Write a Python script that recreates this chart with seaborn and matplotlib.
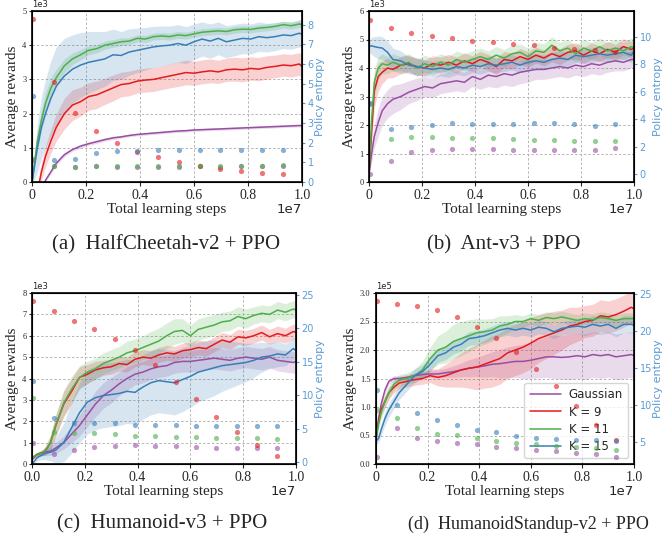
import matplotlib
matplotlib.use("Agg")
import matplotlib.pyplot as plt
import numpy as np
import seaborn as sns

# training progress (in units of 1e7 steps)
STEPS = [0, 0.01, 0.02, 0.035, 0.05, 0.07, 0.09, 0.12, 0.15, 0.18, 0.21, 0.24, 0.27,
         0.30, 0.33, 0.36, 0.39, 0.42, 0.45, 0.48, 0.51, 0.54, 0.57, 0.60, 0.63, 0.66,
         0.69, 0.72, 0.75, 0.78, 0.81, 0.84, 0.87, 0.90, 0.93, 0.96, 0.99, 1.0]
DOT_STEPS = [0.005, 0.082, 0.159, 0.236, 0.313, 0.39, 0.467, 0.544, 0.621, 0.698,
             0.775, 0.852, 0.929]
X_TICKS = [0, 0.2, 0.4, 0.6, 0.8, 1.0]

METHODS = ["Gaussian", "K = 9", "K = 11", "K = 15"]
COLORS = {"Gaussian": "#984ea3", "K = 9": "#e41a1c", "K = 11": "#4daf4a", "K = 15": "#377eb8"}
ENT_COLOR = "#5b9bd5"

# (a) HalfCheetah-v2, rewards in 1e3
cheetah_reward = {
    "Gaussian": [-1.2, -0.9, -0.6, -0.2, 0.05, 0.3, 0.55, 0.8, 0.95, 1.05, 1.12, 1.18, 1.24, 1.29, 1.32, 1.36, 1.39, 1.41, 1.43, 1.45, 1.47, 1.49, 1.5, 1.52, 1.53, 1.54, 1.55, 1.56, 1.57, 1.58, 1.59, 1.6, 1.61, 1.62, 1.63, 1.64, 1.65, 1.65],
    "K = 9": [-1.2, -0.8, -0.3, 0.3, 0.75, 1.2, 1.6, 2.0, 2.25, 2.35, 2.5, 2.55, 2.65, 2.75, 2.85, 2.88, 2.95, 2.98, 3.0, 3.05, 3.1, 3.15, 3.2, 3.18, 3.22, 3.25, 3.22, 3.28, 3.3, 3.28, 3.32, 3.3, 3.35, 3.38, 3.42, 3.4, 3.45, 3.38],
    "K = 11": [0.0, 0.6, 1.2, 1.8, 2.3, 2.75, 3.05, 3.4, 3.6, 3.72, 3.85, 3.9, 4.0, 4.05, 4.1, 4.12, 4.2, 4.18, 4.25, 4.27, 4.25, 4.3, 4.28, 4.33, 4.38, 4.4, 4.42, 4.4, 4.45, 4.47, 4.46, 4.5, 4.52, 4.55, 4.6, 4.57, 4.62, 4.6],
    "K = 15": [0.0, 0.5, 1.0, 1.6, 2.0, 2.45, 2.8, 3.1, 3.3, 3.42, 3.5, 3.55, 3.6, 3.72, 3.7, 3.8, 3.85, 3.9, 3.95, 3.98, 4.0, 4.05, 4.0, 4.1, 4.18, 4.12, 4.2, 4.1, 4.15, 4.2, 4.18, 4.25, 4.22, 4.25, 4.3, 4.28, 4.35, 4.32],
}
cheetah_band = {
    "Gaussian": [0.02, 0.02, 0.03, 0.04, 0.05, 0.06, 0.06, 0.06, 0.05, 0.05, 0.05, 0.05, 0.05, 0.05, 0.04, 0.04, 0.04, 0.04, 0.04, 0.04, 0.04, 0.04, 0.04, 0.04, 0.04, 0.04, 0.04, 0.04, 0.04, 0.04, 0.04, 0.04, 0.04, 0.04, 0.04, 0.04, 0.04, 0.04],
    "K = 9": [0.1, 0.15, 0.2, 0.25, 0.3, 0.35, 0.4, 0.45, 0.45, 0.42, 0.4, 0.4, 0.38, 0.38, 0.36, 0.36, 0.35, 0.35, 0.35, 0.35, 0.35, 0.36, 0.36, 0.35, 0.35, 0.35, 0.34, 0.34, 0.35, 0.35, 0.34, 0.34, 0.34, 0.33, 0.33, 0.33, 0.33, 0.33],
    "K = 11": [0.05, 0.15, 0.25, 0.3, 0.32, 0.3, 0.25, 0.2, 0.17, 0.15, 0.13, 0.12, 0.12, 0.11, 0.11, 0.1, 0.1, 0.1, 0.1, 0.1, 0.1, 0.1, 0.1, 0.1, 0.1, 0.1, 0.1, 0.1, 0.1, 0.1, 0.1, 0.1, 0.1, 0.1, 0.1, 0.1, 0.1, 0.1],
    "K = 15": [0.1, 0.4, 0.7, 0.9, 1.0, 1.1, 1.15, 1.1, 1.0, 0.95, 0.9, 0.85, 0.8, 0.75, 0.7, 0.68, 0.65, 0.62, 0.6, 0.58, 0.56, 0.55, 0.54, 0.52, 0.5, 0.5, 0.48, 0.47, 0.46, 0.45, 0.44, 0.43, 0.42, 0.41, 0.4, 0.4, 0.4, 0.4],
}
cheetah_entropy = {
    "Gaussian": [1.1, 0.8, 0.78, 0.79, 0.78, 0.78, 0.78, 0.78, 0.79, 0.78, 0.79, 0.8, 0.8],
    "K = 9": [8.29, 5.1, 3.49, 2.59, 1.99, 1.55, 1.29, 1.02, 0.83, 0.66, 0.56, 0.48, 0.39],
    "K = 11": [1.17, 0.8, 0.78, 0.79, 0.79, 0.79, 0.8, 0.8, 0.8, 0.8, 0.82, 0.83, 0.84],
    "K = 15": [4.39, 1.11, 1.19, 1.48, 1.57, 1.57, 1.62, 1.63, 1.63, 1.65, 1.65, 1.65, 1.65],
}

# (b) Ant-v3, rewards in 1e3
ant_reward = {
    "Gaussian": [0.3, 1.0, 1.6, 2.1, 2.5, 2.75, 2.9, 3.0, 3.15, 3.25, 3.35, 3.3, 3.45, 3.5, 3.55, 3.5, 3.7, 3.6, 3.75, 3.7, 3.8, 3.75, 3.85, 3.9, 3.95, 3.95, 4.0, 4.05, 4.0, 4.1, 4.05, 4.15, 4.1, 4.2, 4.25, 4.2, 4.3, 4.3],
    "K = 9": [0.3, 1.8, 3.2, 3.7, 3.85, 4.0, 3.95, 4.1, 4.15, 4.05, 4.0, 4.15, 4.1, 4.2, 4.1, 4.25, 4.15, 4.3, 4.2, 4.05, 4.3, 4.25, 4.4, 4.3, 4.45, 4.35, 4.5, 4.4, 4.55, 4.6, 4.45, 4.6, 4.5, 4.65, 4.55, 4.75, 4.65, 4.7],
    "K = 11": [0.3, 2.2, 3.5, 4.0, 4.15, 4.1, 4.2, 4.1, 4.2, 4.0, 4.15, 4.05, 4.2, 4.1, 4.3, 4.2, 4.3, 4.4, 4.3, 4.45, 4.35, 4.5, 4.55, 4.4, 4.6, 4.55, 4.8, 4.6, 4.7, 4.5, 4.7, 4.6, 4.75, 4.6, 4.7, 4.6, 4.75, 4.7],
    "K = 15": [4.75, 4.78, 4.75, 4.72, 4.7, 4.55, 4.3, 4.25, 4.1, 4.05, 4.0, 3.95, 4.0, 3.95, 4.05, 4.0, 4.1, 4.05, 4.15, 4.1, 4.15, 4.2, 4.1, 4.2, 4.25, 4.2, 4.3, 4.35, 4.3, 4.45, 4.4, 4.45, 4.5, 4.45, 4.5, 4.55, 4.45, 4.6],
}
ant_band = {
    "Gaussian": [0.1, 0.3, 0.4, 0.5, 0.5, 0.5, 0.5, 0.45, 0.4, 0.4, 0.35, 0.35, 0.35, 0.35, 0.35, 0.35, 0.35, 0.35, 0.4, 0.4, 0.4, 0.4, 0.4, 0.4, 0.35, 0.35, 0.35, 0.35, 0.35, 0.35, 0.35, 0.35, 0.35, 0.35, 0.35, 0.3, 0.3, 0.3],
    "K = 9": [0.1, 0.5, 0.6, 0.5, 0.4, 0.35, 0.3, 0.3, 0.3, 0.3, 0.28, 0.28, 0.28, 0.28, 0.28, 0.28, 0.28, 0.28, 0.28, 0.28, 0.28, 0.28, 0.28, 0.28, 0.28, 0.28, 0.28, 0.28, 0.28, 0.28, 0.28, 0.28, 0.28, 0.28, 0.28, 0.28, 0.28, 0.28],
    "K = 11": [0.1, 0.5, 0.5, 0.4, 0.35, 0.3, 0.3, 0.3, 0.3, 0.3, 0.3, 0.3, 0.3, 0.3, 0.3, 0.3, 0.3, 0.3, 0.3, 0.3, 0.3, 0.3, 0.3, 0.3, 0.3, 0.3, 0.3, 0.3, 0.3, 0.3, 0.3, 0.3, 0.3, 0.3, 0.3, 0.3, 0.3, 0.3],
    "K = 15": [0.2, 0.3, 0.35, 0.4, 0.4, 0.4, 0.4, 0.35, 0.3, 0.3, 0.28, 0.28, 0.28, 0.28, 0.28, 0.28, 0.27, 0.27, 0.27, 0.27, 0.27, 0.27, 0.26, 0.26, 0.26, 0.26, 0.26, 0.26, 0.25, 0.25, 0.25, 0.25, 0.25, 0.25, 0.25, 0.25, 0.25, 0.25],
}
ant_entropy = {
    "Gaussian": [0.05, 0.95, 1.63, 1.77, 1.84, 1.87, 1.82, 1.77, 1.77, 1.77, 1.77, 1.8, 1.92],
    "K = 9": [11.21, 10.6, 10.24, 10.05, 9.88, 9.71, 9.59, 9.49, 9.37, 9.2, 9.08, 9.0, 8.9],
    "K = 11": [5.1, 2.6, 2.69, 2.69, 2.62, 2.62, 2.67, 2.57, 2.48, 2.48, 2.45, 2.43, 2.43],
    "K = 15": [5.15, 3.28, 3.47, 3.57, 3.71, 3.69, 3.67, 3.62, 3.71, 3.71, 3.62, 3.52, 3.67],
}

# (c) Humanoid-v3, rewards in 1e3
humanoid_reward = {
    "Gaussian": [0.2, 0.35, 0.45, 0.52, 0.56, 0.6, 0.75, 1.0, 1.4, 1.8, 2.3, 2.8, 3.2, 3.45, 3.75, 4.0, 4.2, 4.3, 4.45, 4.55, 4.6, 4.75, 4.8, 4.8, 4.85, 4.9, 4.95, 4.9, 4.85, 4.95, 5.0, 4.95, 4.9, 5.0, 4.85, 4.8, 4.75, 4.8],
    "K = 9": [0.25, 0.38, 0.45, 0.5, 0.6, 1.0, 1.8, 2.8, 3.4, 4.05, 4.2, 4.4, 4.5, 4.55, 4.7, 4.65, 4.9, 5.0, 4.95, 5.1, 5.2, 5.15, 5.3, 5.35, 5.45, 5.4, 5.6, 5.8, 5.7, 5.95, 5.9, 6.0, 6.15, 5.95, 6.1, 6.0, 6.2, 6.15],
    "K = 11": [0.25, 0.38, 0.45, 0.5, 0.6, 1.0, 1.8, 2.85, 3.5, 4.05, 4.3, 4.45, 4.7, 4.85, 5.0, 5.2, 5.3, 5.45, 5.6, 5.75, 6.0, 6.2, 6.25, 6.0, 6.3, 6.4, 6.5, 6.65, 6.7, 6.9, 6.8, 6.95, 7.05, 7.0, 7.2, 7.1, 7.25, 7.2],
    "K = 15": [0.0, 0.15, 0.3, 0.4, 0.5, 0.55, 0.65, 1.0, 1.7, 2.4, 2.9, 3.1, 3.2, 3.25, 3.3, 3.4, 3.35, 3.6, 3.8, 3.9, 3.85, 3.8, 3.95, 4.1, 4.3, 4.4, 4.5, 4.6, 4.65, 4.7, 4.75, 4.85, 5.0, 5.05, 5.15, 5.1, 5.4, 5.3],
}
humanoid_band = {
    "Gaussian": [0.05, 0.08, 0.1, 0.12, 0.15, 0.2, 0.25, 0.3, 0.4, 0.5, 0.55, 0.6, 0.6, 0.6, 0.55, 0.55, 0.5, 0.5, 0.5, 0.5, 0.5, 0.5, 0.5, 0.5, 0.5, 0.5, 0.5, 0.5, 0.5, 0.5, 0.5, 0.5, 0.5, 0.5, 0.5, 0.5, 0.5, 0.5],
    "K = 9": [0.05, 0.08, 0.1, 0.12, 0.2, 0.35, 0.5, 0.6, 0.6, 0.5, 0.45, 0.4, 0.35, 0.35, 0.35, 0.35, 0.35, 0.35, 0.35, 0.35, 0.35, 0.35, 0.35, 0.35, 0.35, 0.35, 0.35, 0.35, 0.35, 0.35, 0.35, 0.35, 0.35, 0.35, 0.35, 0.35, 0.35, 0.35],
    "K = 11": [0.05, 0.08, 0.1, 0.12, 0.2, 0.35, 0.5, 0.6, 0.6, 0.55, 0.5, 0.5, 0.5, 0.5, 0.5, 0.55, 0.55, 0.55, 0.6, 0.6, 0.6, 0.6, 0.55, 0.5, 0.5, 0.5, 0.5, 0.45, 0.45, 0.45, 0.45, 0.4, 0.4, 0.4, 0.4, 0.4, 0.4, 0.4],
    "K = 15": [0.05, 0.1, 0.15, 0.2, 0.3, 0.4, 0.6, 0.9, 1.2, 1.4, 1.5, 1.5, 1.5, 1.5, 1.5, 1.5, 1.5, 1.5, 1.5, 1.5, 1.5, 1.5, 1.5, 1.45, 1.4, 1.35, 1.3, 1.2, 1.1, 1.0, 0.9, 0.8, 0.7, 0.6, 0.6, 0.5, 0.5, 0.5],
}
humanoid_entropy = {
    "Gaussian": [2.89, 1.24, 1.84, 2.29, 2.44, 2.54, 2.44, 2.49, 2.29, 2.14, 2.14, 2.14, 2.14],
    "K = 9": [24.05, 22.5, 21.07, 19.87, 18.43, 16.68, 14.44, 12.05, 9.46, 6.82, 4.48, 2.54, 0.95],
    "K = 11": [9.56, 4.48, 4.33, 4.33, 4.18, 3.93, 3.93, 3.83, 3.73, 3.68, 3.68, 3.63, 3.54],
    "K = 15": [12.15, 6.57, 5.9, 5.83, 5.83, 5.63, 5.63, 5.58, 5.48, 5.48, 5.48, 5.48, 5.48],
}

# (d) HumanoidStandup-v2, rewards in 1e5
standup_reward = {
    "Gaussian": [0.45, 0.8, 1.05, 1.3, 1.45, 1.5, 1.5, 1.52, 1.55, 1.57, 1.58, 1.58, 1.6, 1.62, 1.65, 1.68, 1.7, 1.72, 1.75, 1.76, 1.78, 1.8, 1.8, 1.82, 1.85, 1.88, 1.88, 1.87, 1.88, 1.9, 1.88, 1.92, 1.9, 1.92, 1.88, 1.9, 1.92, 1.9],
    "K = 9": [0.45, 0.75, 0.95, 1.1, 1.25, 1.35, 1.42, 1.45, 1.48, 1.5, 1.55, 1.52, 1.55, 1.6, 1.65, 1.68, 1.7, 1.75, 1.8, 1.85, 1.95, 2.0, 2.05, 2.12, 2.2, 2.25, 2.3, 2.35, 2.42, 2.45, 2.5, 2.52, 2.6, 2.58, 2.62, 2.68, 2.75, 2.72],
    "K = 11": [0.45, 0.7, 0.9, 1.1, 1.25, 1.4, 1.47, 1.5, 1.55, 1.65, 1.85, 2.0, 2.05, 2.15, 2.2, 2.25, 2.3, 2.32, 2.35, 2.42, 2.45, 2.5, 2.5, 2.55, 2.52, 2.57, 2.55, 2.58, 2.55, 2.52, 2.55, 2.53, 2.57, 2.55, 2.52, 2.55, 2.55, 2.55],
    "K = 15": [0.4, 0.45, 0.6, 0.8, 0.95, 1.1, 1.25, 1.4, 1.55, 1.62, 1.75, 1.9, 1.95, 2.05, 2.1, 2.2, 2.22, 2.25, 2.3, 2.35, 2.38, 2.35, 2.38, 2.35, 2.4, 2.38, 2.32, 2.38, 2.4, 2.42, 2.4, 2.45, 2.42, 2.45, 2.38, 2.45, 2.45, 2.43],
}
standup_band = {
    "Gaussian": [0.03, 0.05, 0.06, 0.06, 0.05, 0.05, 0.05, 0.05, 0.05, 0.05, 0.06, 0.07, 0.08, 0.1, 0.12, 0.15, 0.17, 0.2, 0.22, 0.25, 0.27, 0.28, 0.3, 0.32, 0.34, 0.36, 0.38, 0.38, 0.4, 0.4, 0.4, 0.4, 0.4, 0.4, 0.4, 0.4, 0.4, 0.4],
    "K = 9": [0.03, 0.08, 0.1, 0.1, 0.1, 0.1, 0.1, 0.1, 0.1, 0.1, 0.12, 0.15, 0.2, 0.25, 0.3, 0.35, 0.4, 0.42, 0.45, 0.45, 0.45, 0.45, 0.45, 0.45, 0.42, 0.4, 0.38, 0.35, 0.33, 0.3, 0.28, 0.28, 0.28, 0.28, 0.28, 0.28, 0.28, 0.28],
    "K = 11": [0.05, 0.1, 0.12, 0.12, 0.12, 0.1, 0.1, 0.1, 0.12, 0.15, 0.2, 0.25, 0.28, 0.3, 0.3, 0.28, 0.25, 0.22, 0.2, 0.18, 0.15, 0.12, 0.1, 0.1, 0.1, 0.1, 0.1, 0.1, 0.1, 0.1, 0.1, 0.1, 0.1, 0.1, 0.1, 0.1, 0.1, 0.1],
    "K = 15": [0.05, 0.08, 0.1, 0.12, 0.12, 0.12, 0.12, 0.12, 0.12, 0.12, 0.12, 0.12, 0.12, 0.12, 0.12, 0.12, 0.12, 0.12, 0.12, 0.12, 0.12, 0.12, 0.12, 0.12, 0.12, 0.12, 0.12, 0.12, 0.12, 0.12, 0.15, 0.15, 0.15, 0.15, 0.15, 0.15, 0.15, 0.15],
}
standup_entropy = {
    "Gaussian": [2.95, 6.91, 5.55, 5.05, 4.86, 4.64, 4.23, 4.18, 3.91, 3.73, 3.41, 3.27, 2.95],
    "K = 9": [24.09, 23.73, 23.45, 22.86, 21.91, 20.55, 19.05, 17.14, 14.91, 12.5, 9.77, 7.27, 5.23],
    "K = 11": [9.23, 8.18, 6.82, 6.09, 5.95, 5.55, 5.09, 4.77, 4.64, 4.41, 4.32, 4.09, 3.86],
    "K = 15": [12.05, 9.91, 8.95, 7.91, 7.23, 6.59, 6.36, 5.82, 5.55, 5.36, 5.23, 5.2, 5.09],
}

sns.set_style("ticks", {"axes.grid": True, "grid.color": "#b5b5b5", "axes.edgecolor": "black"})
plt.rcParams["grid.linewidth"] = 0.7
plt.rcParams["grid.linestyle"] = (0, (2.5, 2))
SERIF = ["Liberation Serif", "DejaVu Serif"]

fig = plt.figure(figsize=(6.64, 5.35), dpi=100)


def panel(box, reward, band, entropy, scale, ylim, yticks, elim, eticks, caption, cap_xy,
          cap_size=15, zero_label="0", legend=False):
    left, top, right, bottom = box
    ax = fig.add_axes([left / 664, 1 - bottom / 535, (right - left) / 664, (bottom - top) / 535])
    x = np.array(STEPS) * 1e7
    for m in METHODS:
        mean = np.array(reward[m]) * scale
        half = np.array(band[m]) * scale
        ax.fill_between(x, mean - half, mean + half, color=COLORS[m], alpha=0.2, lw=0)
        sns.lineplot(x=x, y=mean, color=COLORS[m], lw=1.1, label=m, ax=ax, legend=False)
    ax.set_xlim(0, 1e7)
    ax.set_xticks(np.array(X_TICKS) * 1e7, [zero_label] + [f"{t:.1f}" for t in X_TICKS[1:]])
    ax.text(1.0, -0.12, "1e7", transform=ax.transAxes, ha="right", va="top", fontsize=9.5)
    ax.set_ylim(*ylim)
    ax.set_yticks(yticks)
    ax.ticklabel_format(axis="y", style="sci", scilimits=(0, 0))
    ax.tick_params(axis="y", labelsize=6, length=2.5, pad=1.5)
    ax.tick_params(axis="x", labelsize=10, length=3, pad=2)
    for lab in ax.get_xticklabels() + ax.get_yticklabels():
        lab.set_fontfamily(SERIF)
    ax.yaxis.get_offset_text().set_fontsize(6)
    ax.set_xlabel("Total learning steps", fontsize=11, family=SERIF, labelpad=1)
    ax.set_ylabel("Average rewards", fontsize=11, family=SERIF, labelpad=2)
    for sp in ax.spines.values():
        sp.set_linewidth(1.2)
    if legend:
        ax.legend(loc="lower right", fontsize=8.5, handlelength=2.7, labelspacing=0.35,
                  borderpad=0.45, handletextpad=0.6, framealpha=0.8)

    ax2 = ax.twinx()
    for m in METHODS:
        sns.scatterplot(x=np.array(DOT_STEPS) * 1e7, y=entropy[m], color=COLORS[m], s=14,
                        alpha=0.6, linewidth=0, ax=ax2, legend=False)
    ax2.grid(False)
    ax2.set_xlim(0, 1e7)
    ax2.set_ylim(*elim)
    ax2.set_yticks(eticks)
    ax2.tick_params(axis="y", colors=ENT_COLOR, labelsize=7, length=2.5, pad=1.5)
    ax2.set_ylabel("Policy entropy", color=ENT_COLOR, fontsize=8, labelpad=1)
    fig.text(cap_xy[0] / 664, 1 - cap_xy[1] / 535, caption, ha="center", va="center",
             fontsize=cap_size, family=SERIF)


panel((32, 11, 302, 182), cheetah_reward, cheetah_band, cheetah_entropy, 1e3,
      (0, 5000), [0, 1000, 2000, 3000, 4000, 5000], (0, 8.7), [0, 1, 2, 3, 4, 5, 6, 7, 8],
      "(a)  HalfCheetah-v2 + PPO", (166, 245))
panel((369, 11, 634, 182), ant_reward, ant_band, ant_entropy, 1e3,
      (0, 6000), [0, 1000, 2000, 3000, 4000, 5000, 6000], (-0.56, 11.87), [0, 2, 4, 6, 8, 10],
      "(b)  Ant-v3 + PPO", (504, 245))
panel((32, 293, 296, 464), humanoid_reward, humanoid_band, humanoid_entropy, 1e3,
      (0, 8000), [0, 1000, 2000, 3000, 4000, 5000, 6000, 7000, 8000], (-0.25, 25.25),
      [0, 5, 10, 15, 20, 25], "(c)  Humanoid-v3 + PPO", (162, 524), zero_label="0.0")
panel((376, 293, 634, 464), standup_reward, standup_band, standup_entropy, 1e5,
      (0, 3e5), [0, 50000, 100000, 150000, 200000, 250000, 300000], (1.95, 25.2),
      [5, 10, 15, 20, 25], "(d)  HumanoidStandup-v2 + PPO", (528, 524), cap_size=13,
      legend=True)

fig.savefig("out.png", dpi=100)
